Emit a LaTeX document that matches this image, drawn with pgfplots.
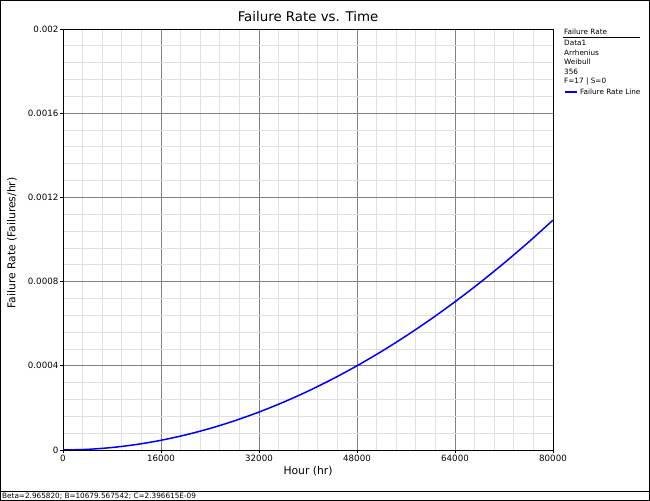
\documentclass[border=0pt]{standalone}
\usepackage{pgfplots}
\pgfplotsset{compat=1.18}
\usepackage{fontspec}
\setmainfont{DejaVu Sans}

\pgfplotstableread{
t rate
0     0
4000  3.02e-6
8000  1.183e-5
12000 2.621e-5
16000 4.615e-5
20000 7.158e-5
24000 1.0241e-4
28000 1.3866e-4
32000 1.8030e-4
36000 2.2727e-4
40000 2.7955e-4
44000 3.3716e-4
48000 4.0004e-4
52000 4.6818e-4
56000 5.4165e-4
60000 6.2031e-4
64000 7.0427e-4
68000 7.9337e-4
72000 8.8772e-4
76000 9.8729e-4
80000 1.092e-3
}\ratedata

\begin{document}
\begin{tikzpicture}[x=1bp,y=1bp]
% frame and footer
\draw[black, line width=0.8bp] (0.4,0.4) rectangle (649.6,500.6);
\draw[black, line width=0.8bp] (0.4,10) -- (649.6,10);
\node[anchor=west, inner sep=0, font=\fontsize{7.3}{8}\selectfont] at (2,5.2)
  {Beta=2.965820; B=10679.567542; C=2.396615E-09};
% title and axis labels
\node[font=\fontsize{13.4}{15}\selectfont] at (308,484) {Failure Rate vs. Time};
\node[font=\fontsize{10.8}{12}\selectfont] at (308,30) {Hour (hr)};
\node[rotate=90, font=\fontsize{10.8}{12}\selectfont] at (12,258) {Failure Rate (Failures/hr)};

\begin{axis}[
    at={(63bp,51bp)}, anchor=south west,
    scale only axis, width=490bp, height=421bp,
    xmin=0, xmax=80000, ymin=0, ymax=0.002,
    scaled ticks=false,
    xtick={0,16000,32000,48000,64000,80000},
    xticklabels={0,16000,32000,48000,64000,80000},
    ytick={0,0.0004,0.0008,0.0012,0.0016,0.002},
    yticklabels={0,0.0004,0.0008,0.0012,0.0016,0.002},
    minor x tick num=4, minor y tick num=4,
    grid=both,
    major grid style={draw=black!50, line width=0.75bp},
    minor grid style={draw=black!12, line width=0.75bp},
    axis line style={black, line width=0.9bp},
    tick align=outside, xtick pos=left, ytick pos=left,
    major tick length=3bp, minor tick length=0bp,
    tick style={black, line width=0.75bp},
    ticklabel style={font=\fontsize{8.7}{10}\selectfont},
    xticklabel style={inner sep=1.5bp},
    yticklabel style={inner sep=1.5bp},
    clip=true,
    legend style={at={(rel axis cs:1.023,0.850)}, anchor=west, draw=none, fill=none,
        inner sep=0pt, font=\fontsize{7.3}{8}\selectfont,
        legend cell align=left},
    legend image code/.code={\draw[blue, line width=1.6bp] (0bp,0bp) -- (12bp,0bp);},
]
\addplot[color=blue, line width=1.5bp, smooth] table[x=t, y=rate] {\ratedata};
\addlegendentry{Failure Rate Line}
\end{axis}

% legend header
\begin{scope}[font=\fontsize{7.3}{8}\selectfont]
\node[anchor=west, inner sep=0] at (564,469) {Failure Rate};
\draw[black, line width=0.8bp] (563,464) -- (640,464);
\node[anchor=north west, inner sep=0, align=left, font=\fontsize{7.3}{9.6}\selectfont] at (564,461)
  {Data1\\Arrhenius\\Weibull\\356\\F=17 | S=0};
\end{scope}
\end{tikzpicture}
\end{document}
